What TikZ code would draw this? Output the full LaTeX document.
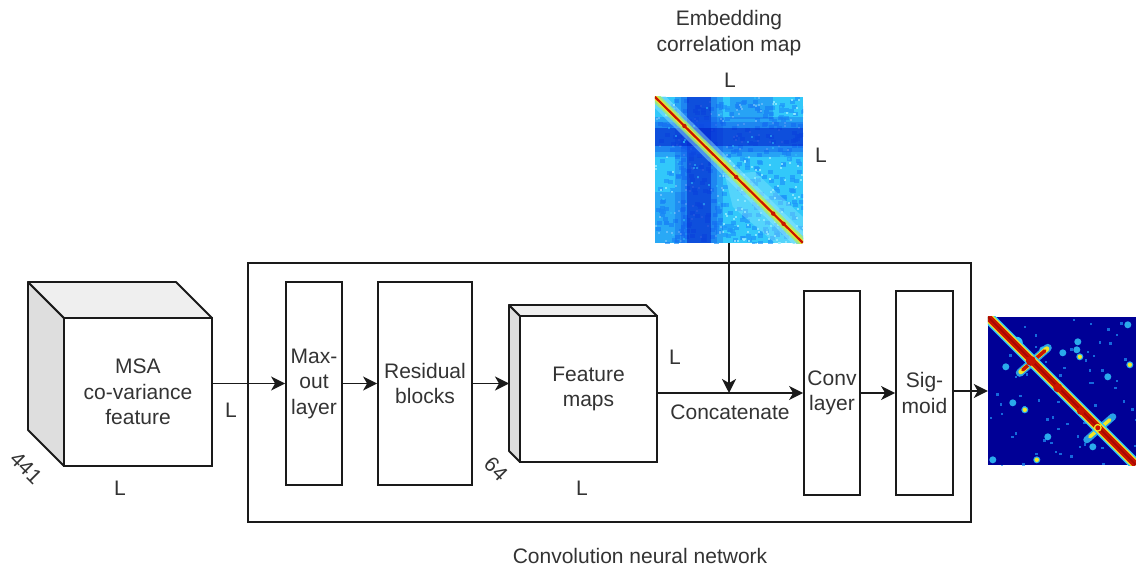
\documentclass[tikz,border=0pt]{standalone}
\usepackage{fontspec}
\setmainfont{Liberation Sans}
\usetikzlibrary{arrows.meta,calc}

\definecolor{txt}{HTML}{333333}
\definecolor{ln}{HTML}{1A1A1A}
\definecolor{sideface}{HTML}{DEDEDE}
\definecolor{topface}{HTML}{EFEFEF}
% heat-map palette (jet)
\definecolor{jetnavy}{RGB}{0,0,150}
\definecolor{jetdeep}{RGB}{0,25,200}
\definecolor{jetblue}{RGB}{15,80,235}
\definecolor{jetmid}{RGB}{30,150,250}
\definecolor{jetcyan}{RGB}{50,200,250}
\definecolor{jetpale}{RGB}{150,235,255}
\definecolor{jetgreen}{RGB}{160,235,120}
\definecolor{jetyellow}{RGB}{240,230,40}
\definecolor{jetorange}{RGB}{240,120,20}
\definecolor{jetred}{RGB}{200,20,0}
\definecolor{jetdark}{RGB}{140,0,0}

\begin{document}
\begin{tikzpicture}[x=1pt,y=-1pt,
  lbl/.style={text=txt,font=\fontsize{21}{25.5}\selectfont,align=center,inner sep=0pt},
  layerbox/.style={draw=ln,line width=1.8pt,fill=white,inner sep=0pt,
    text=txt,font=\fontsize{21}{25.5}\selectfont,align=center},
  face/.style={draw=ln,line width=1.8pt,line join=round},
  arr/.style={draw=ln,line width=1.8pt,-{Stealth[length=14pt,width=14pt,inset=4pt]}},
  mapbox/.style={inner sep=0pt,draw=none}
]
\useasboundingbox (0,0) rectangle (1136,572);

% ---------- outer network frame ----------
\node[draw=ln,line width=1.8pt,minimum width=723,minimum height=259,inner sep=0pt]
  (cnn) at (609.5,392.5) {};
\node[lbl] (cnnlbl) at (640,556) {Convolution neural network};

% ---------- input cube ----------
\filldraw[face,fill=sideface] (28,282) -- (64,318) -- (64,466) -- (28,430) -- cycle;
\filldraw[face,fill=topface] (28,282) -- (176,282) -- (212,318) -- (64,318) -- cycle;
\node[layerbox,minimum width=148,minimum height=148] (msa) at (138,392)
  {MSA\\co-variance\\feature};
\node[lbl,rotate=-45] (d441) at (26,468) {441};
\node[lbl] (msaL1) at (120,488) {L};
\node[lbl] (msaL2) at (231,410) {L};

% ---------- layers ----------
\node[layerbox,minimum width=56,minimum height=203] (maxout) at (314,383.5) {Max-\\out\\layer};
\node[layerbox,minimum width=94,minimum height=203] (resid) at (425,383.5) {Residual\\blocks};

% feature-map slab
\filldraw[face,fill=sideface] (509,305) -- (520,316) -- (520,462) -- (509,451) -- cycle;
\filldraw[face,fill=topface] (509,305) -- (646,305) -- (657,316) -- (520,316) -- cycle;
\coordinate (fmside) at (509,384);
\node[layerbox,minimum width=137,minimum height=146] (fmap) at (588.5,389) {Feature\\maps};
\node[lbl,rotate=-45] (d64) at (496,469) {64};
\node[lbl] (fmL1) at (582,488) {L};
\node[lbl] (fmL2) at (675,357) {L};

\node[layerbox,minimum width=56,minimum height=204] (conv) at (832,393) {Conv\\layer};
\node[layerbox,minimum width=57,minimum height=204] (sig) at (924.5,393) {Sig-\\moid};

% ---------- embedding correlation map ----------
\node[lbl] (embtitle) at (729,33) {Embedding\\correlation map};
\node[lbl] (embL1) at (730,80) {L};
\node[lbl] (embL2) at (821,155) {L};
\node[mapbox,minimum width=148,minimum height=146] (emb) at (729,170) {};
\begin{scope}
  \clip (emb.north west) rectangle (emb.south east);
  \begin{scope}[shift={(emb.north west)}]
    \fill[jetcyan] (0,0) rectangle (148,146);
    \pgfmathsetseed{17}
    \foreach \i in {1,...,380}{
      \pgfmathsetmacro\rx{rnd*148}
      \pgfmathsetmacro\ry{rnd*146}
      \fill[jetmid,opacity=.7] (\rx,\ry) rectangle ++(5,4);
    }
    \foreach \i in {1,...,220}{
      \pgfmathsetmacro\rx{rnd*148}
      \pgfmathsetmacro\ry{rnd*146}
      \fill[jetpale,opacity=.8] (\rx,\ry) rectangle ++(2,2);
    }
    % dark bands, soft-edged by stacking
    \fill[jetblue,opacity=.3] (20,0) rectangle (68,146);
    \fill[jetblue,opacity=.35] (26,0) rectangle (62,146);
    \fill[jetdeep,opacity=.5] (32,0) rectangle (56,146);
    \fill[jetblue,opacity=.3] (0,20) rectangle (148,60);
    \fill[jetblue,opacity=.35] (0,25) rectangle (148,55);
    \fill[jetdeep,opacity=.5] (0,31) rectangle (148,49);
    \fill[jetblue,opacity=.3] (75,0) rectangle (118,22);
    \fill[jetblue,opacity=.25] (0,95) rectangle (30,146);
    % a few pale flecks over the bands
    \foreach \i in {1,...,70}{
      \pgfmathsetmacro\rx{rnd*148}
      \pgfmathsetmacro\ry{rnd*146}
      \fill[jetcyan,opacity=.5] (\rx,\ry) rectangle ++(2,2);
    }
    % bright halo along the lower diagonal
    \fill[jetpale,opacity=.35] (70,78) -- (100,75) -- (148,120) -- (148,146) -- (120,146) -- (78,110) -- cycle;
    % diagonal
    \draw[jetpale,line width=16pt,opacity=.45] (0,0) -- (148,146);
    \draw[jetgreen,line width=9pt,opacity=.85] (0,0) -- (148,146);
    \draw[jetyellow,line width=4.5pt] (0,0) -- (148,146);
    \draw[jetred,line width=2.2pt] (0,0) -- (148,146);
    \foreach \t in {.2,.55,.8,.87}{
      \fill[jetred] ($(0,0)!\t!(148,146)$) circle (2.2);
    }
  \end{scope}
\end{scope}

% ---------- predicted contact map ----------
\node[mapbox,minimum width=148,minimum height=148] (out) at (1062,391) {};
\begin{scope}
  \clip (out.north west) rectangle (out.south east);
  \begin{scope}[shift={(out.north west)}]
    \fill[jetnavy] (0,0) rectangle (148,148);
    \pgfmathsetseed{5}
    \foreach \i in {1,...,70}{
      \pgfmathsetmacro\rx{rnd*148}
      \pgfmathsetmacro\ry{rnd*148}
      \fill[jetmid,opacity=.7] (\rx,\ry) rectangle ++(2.5,2.5);
    }
    % off-diagonal contacts
    \foreach \p in {(90,25),(89,33),(92,40),(140,8),(142,48),(25,86),(37,93),(5,143),(49,143),
                    (72,71),(92,93),(55,33),(75,36),(120,60),(60,120),(18,50),(105,130)}{
      \fill[jetcyan,opacity=.85] \p circle (3.5);
    }
    \foreach \p in {(92,40),(142,48),(37,93),(49,143),(29,26)}{
      \fill[jetyellow] \p circle (2.2);
    }
    % secondary cross arms
    \draw[jetcyan,line width=8pt,line cap=round,opacity=.8] (32,56) -- (60,31);
    \draw[jetyellow,line width=5pt,line cap=round] (33,55) -- (59,32);
    \draw[jetred,line width=3.5pt,line cap=round] (35,53) -- (57,34);
    \draw[jetcyan,line width=7pt,line cap=round,opacity=.8] (99,123) -- (125,100);
    \draw[jetyellow,line width=3.5pt,line cap=round] (102,120) -- (122,103);
    \fill[jetcyan] (29,26) circle (6);
    \fill[jetyellow] (29,26) circle (3.5);
    % main diagonal
    \draw[jetcyan,line width=12pt] (0,0) -- (148,148);
    \draw[jetyellow,line width=9pt] (0,0) -- (148,148);
    \draw[jetred,line width=6.5pt] (0,0) -- (148,148);
    \draw[jetdark,line width=2pt,opacity=.5] (0,0) -- (148,148);
    \fill[jetred] (43,44) circle (5);
    \fill[jetred] (70,71) circle (4.5);
    \fill[jetred] (93,94) circle (4);
    \fill[jetyellow] (110,111) circle (4);
    \fill[jetred] (110,111) circle (2.5);
  \end{scope}
\end{scope}

% ---------- connectors ----------
\draw[arr] (msa.east |- maxout) -- (maxout.west);
\draw[arr] (maxout) -- (resid);
\draw[arr] (resid.east) -- (resid.east -| fmside);
\draw[arr] (fmap.east |- conv) -- (conv.west);
\coordinate (cat) at (emb.south |- conv);
\draw[arr] (emb.south) -- (cat);
\node[lbl] (catlbl) at (730,412) {Concatenate};
\draw[arr] (conv) -- (sig);
\draw[arr] (sig.east |- out) -- (out.west);
\end{tikzpicture}
\end{document}
